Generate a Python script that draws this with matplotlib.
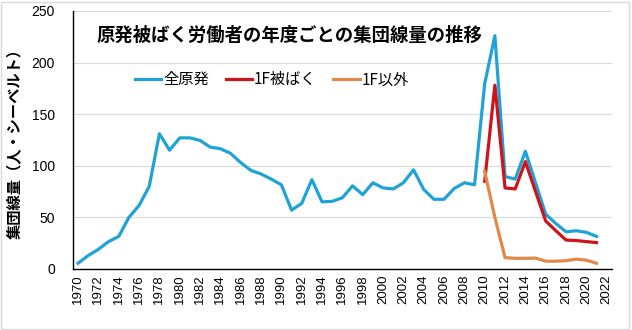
import matplotlib
matplotlib.use("Agg")
import matplotlib.pyplot as plt
from matplotlib.patches import Rectangle

plt.rcParams['font.family'] = ['Noto Sans CJK JP', 'DejaVu Sans']

# data (人・シーベルト)
years_all = list(range(1970, 2022))
dose_all = [5.5, 13, 19, 26.5, 31.5, 50, 61.5, 80, 131, 115, 127, 127, 124.5, 118,
            116.5, 112, 103, 95.5, 92, 87, 81.5, 57, 63.5, 86.5, 65, 65.5, 69, 80.5,
            72, 83.5, 78.5, 77.5, 83.5, 96, 77, 67.5, 67.5, 78, 83.5, 81.5, 179.5,
            226, 89.5, 87, 114, 83.5, 53, 44, 36, 37, 35.5, 31.5]

years_1f = list(range(2010, 2022))
dose_1f = [85, 178, 78.5, 77.5, 104, 75, 46.5, 37, 28, 27.5, 26.5, 25.5]
dose_other = [94.5, 50, 11, 10.3, 10.3, 10.5, 7.5, 7.5, 8, 9.5, 8.5, 5.5]

tick_years = list(range(1970, 2023, 2))

fig = plt.figure(figsize=(6.32, 3.30), dpi=100)
ax = fig.add_axes([0.1155, 0.185, 0.8525, 0.782])

ax.plot(years_all, dose_all, color='#1fa3d6', lw=2.3, label='全原発', zorder=3)
ax.plot(years_1f, dose_1f, color='#d0121b', lw=2.3, label='1F被ばく', zorder=4)
ax.plot(years_1f, dose_other, color='#e0894a', lw=2.3, label='1F以外', zorder=4)

ax.set_xlim(1969.5, 2022.5)
ax.set_ylim(0, 250)
ax.set_yticks(range(0, 251, 50))
ax.set_xticks(tick_years)
ax.set_xticklabels([str(y) for y in tick_years], rotation=90, fontsize=9.5,
                   family='Liberation Sans')
for lab in ax.get_yticklabels():
    lab.set_family('Liberation Sans')
ax.tick_params(axis='y', length=0, pad=13, labelsize=10)
ax.tick_params(axis='x', length=0, pad=4)

ax.grid(axis='y', color='#d9d9d9', lw=0.8)
ax.set_axisbelow(True)
for s in ['top', 'right']:
    ax.spines[s].set_visible(False)
ax.spines['left'].set_color('black')
ax.spines['bottom'].set_color('black')
ax.spines['left'].set_linewidth(1.0)
ax.spines['bottom'].set_linewidth(1.0)

ax.set_ylabel('集団線量（人・シーベルト）', fontsize=11, fontweight='bold', labelpad=6)

ax.text(0.043, 0.907, '原発被ばく労働者の年度ごとの集団線量の推移', transform=ax.transAxes,
        fontsize=13.2, fontweight='bold', va='center', ha='left')

ax.legend(loc='center', bbox_to_anchor=(0.369, 0.733), ncol=3, frameon=False,
          fontsize=11, handlelength=1.75, handletextpad=0.1, columnspacing=1.1)

# light gray chart border
fig.patches.append(Rectangle((0.002, 0.003), 0.994, 0.99, transform=fig.transFigure,
                             fill=False, edgecolor='#d9d9d9', lw=1))

fig.savefig('out.png', dpi=100)
